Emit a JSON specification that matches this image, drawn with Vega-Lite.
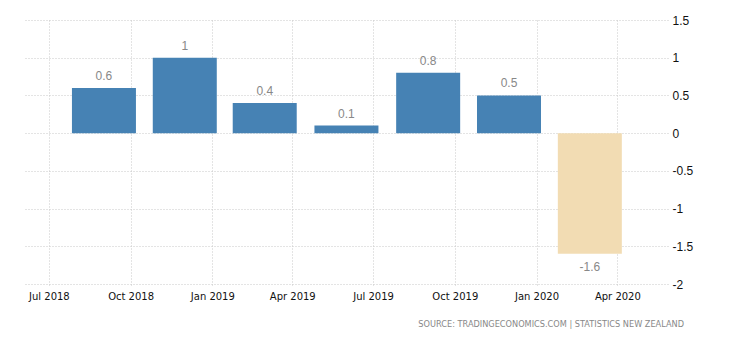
{
  "$schema": "https://vega.github.io/schema/vega-lite/v6.json",
  "autosize": "none",
  "width": 644,
  "height": 264,
  "padding": {"left": 24, "top": 20, "right": 62, "bottom": 56},
  "background": "white",
  "data": {"values": [
    {"date": "2018-09-01", "value": 0.6},
    {"date": "2018-12-01", "value": 1},
    {"date": "2019-03-01", "value": 0.4},
    {"date": "2019-06-01", "value": 0.1},
    {"date": "2019-09-01", "value": 0.8},
    {"date": "2019-12-01", "value": 0.5},
    {"date": "2020-03-01", "value": -1.6}
  ]},
  "title": {
    "text": "SOURCE: TRADINGECONOMICS.COM | STATISTICS NEW ZEALAND",
    "orient": "bottom",
    "anchor": "end",
    "frame": "group",
    "font": "DejaVu Sans",
    "fontSize": 8.2,
    "fontWeight": "normal",
    "color": "#888888",
    "offset": 20,
    "dx": 16
  },
  "config": {
    "view": {"stroke": null},
    "axis": {"domain": false}
  },
  "encoding": {
    "x": {
      "field": "date",
      "type": "temporal",
      "scale": {
        "type": "utc",
        "padding": 0,
        "domain": [1527984000000, 1590624000000]
      },
      "axis": {
        "title": null,
        "values": [1530403200000, 1538352000000, 1546300800000, 1554076800000, 1561939200000, 1569888000000, 1577836800000, 1585699200000],
        "labelExpr": "utcFormat(datum.value, '%b %Y')",
        "grid": true,
        "gridColor": "#c8c8c8",
        "gridDash": [1, 2],
        "ticks": true,
        "tickSize": 3,
        "tickColor": "#c8c8c8",
        "tickDash": [1, 2],
        "labelFont": "DejaVu Sans",
        "labelFontSize": 10,
        "labelColor": "#111111",
        "labelPadding": 4,
        "labelFlush": false
      }
    },
    "y": {
      "field": "value",
      "type": "quantitative",
      "scale": {"domain": [-2, 1.5], "nice": false, "zero": false, "padding": 0},
      "axis": {
        "title": null,
        "orient": "right",
        "values": [-2, -1.5, -1, -0.5, 0, 0.5, 1, 1.5],
        "labelExpr": "'' + datum.value",
        "grid": true,
        "gridColor": "#c8c8c8",
        "gridDash": [1, 2],
        "ticks": false,
        "labelPadding": 4,
        "labelFont": "Liberation Sans",
        "labelFontSize": 12,
        "labelColor": "#111111"
      }
    }
  },
  "layer": [
    {
      "mark": {"type": "bar", "width": 64},
      "encoding": {
        "color": {
          "condition": {"test": "datum.value < 0", "value": "#F2DCB3"},
          "value": "#4682B4"
        }
      }
    },
    {
      "transform": [{"filter": "datum.value >= 0"}],
      "mark": {"type": "text", "baseline": "bottom", "dy": -5, "font": "Liberation Sans", "fontSize": 12, "color": "#888888"},
      "encoding": {"text": {"field": "value", "type": "nominal"}}
    },
    {
      "transform": [{"filter": "datum.value < 0"}],
      "mark": {"type": "text", "baseline": "top", "dy": 8, "font": "Liberation Sans", "fontSize": 12, "color": "#888888"},
      "encoding": {"text": {"field": "value", "type": "nominal"}}
    }
  ]
}
